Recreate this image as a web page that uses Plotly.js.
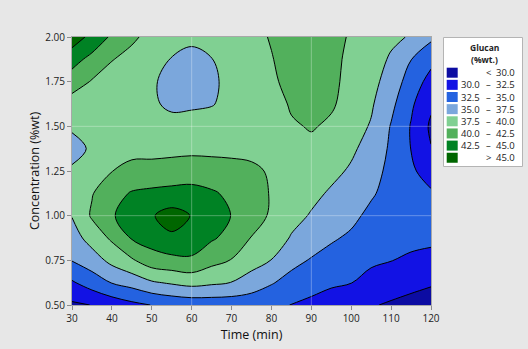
<!DOCTYPE html>
<html><head><meta charset="utf-8">
<script src="https://cdn.plot.ly/plotly-3.0.1.min.js"></script>
<style>html,body{margin:0;padding:0;background:#e7e7e7;} #chart{width:528px;height:349px;}</style>
</head><body><div id="chart"></div>
<script>
// ---- data ----
const timeMin = [30,35,40,45,50,55,60,65,70,75,80,85,90,95,100,105,110,115,120];
const concentration = [0.5,0.625,0.75,0.875,1.0,1.125,1.25,1.375,1.5,1.625,1.75,1.875,2.0];
// glucan[row = concentration index][col = time index]
const glucan = [
  [29.6,30.05,31.0,31.9,32.55,33.1,33.4,33.5,33.5,33.3,33.0,32.45,31.7,31.1,30.6,30.2,29.7,29.2,28.7],
  [32.2,33.7,35.1,35.95,37.2,37.8,38.3,37.9,37.45,36.5,35.2,34.1,33.8,32.95,32.55,31.7,31.2,30.75,30.3],
  [35.1,36.3,38.2,39.7,41.4,41.8,42.1,40.76,39.9,38.4,37.45,35.75,34.8,34.1,33.6,32.9,32.55,32.2,31.8],
  [36.4,38.5,40.4,42.7,43.6,44.6,44.0,42.8,41.7,39.9,38.9,37.3,36.3,35.3,34.6,33.7,33.3,33.0,33.0],
  [37.6,40.3,42.2,44.0,44.8,46.0,44.9,43.5,42.45,41.0,39.7,38.3,37.3,36.4,35.6,34.4,33.8,33.3,33.3],
  [38.1,39.85,41.6,42.7,43.0,43.2,43.3,42.8,42.0,41.2,39.8,38.8,38.1,37.2,36.5,35.3,34.1,33.3,32.8],
  [37.7,38.5,39.95,40.7,40.9,41.1,41.3,41.06,40.8,40.5,39.7,39.0,38.7,38.1,37.2,36.0,34.3,32.9,31.4],
  [37.0,37.7,38.9,39.3,39.2,39.3,39.4,39.4,39.4,39.3,38.9,39.2,39.4,38.8,37.9,36.6,34.6,32.45,30.1],
  [37.7,37.8,38.3,38.6,38.4,38.2,38.3,38.3,38.5,38.7,38.7,39.7,40.2,39.6,38.5,37.3,34.85,32.35,29.6],
  [38.8,38.6,38.4,38.3,37.8,37.1,37.2,37.4,38.0,38.5,38.8,40.3,40.7,40.3,39.05,37.8,35.6,32.9,30.4],
  [41.35,39.8,39.0,38.5,37.7,37.0,36.8,37.2,38.0,38.6,39.6,40.7,41.0,40.6,39.2,38.3,36.4,33.9,31.6],
  [43.4,41.8,40.1,39.3,38.2,37.4,37.1,37.45,38.3,38.9,39.9,40.8,41.1,40.7,39.4,38.6,37.2,35.05,33.2],
  [46.5,44.2,42.1,40.4,39.3,38.5,37.8,38.2,38.8,39.4,40.15,40.8,41.0,40.6,39.8,38.9,38.0,37.3,35.5]
];
const levelStart = 30, levelEnd = 45, levelStep = 2.5;
const bandColors = ['#0c0ca2','#1212e4','#2462e0','#7ba7dc','#80d092','#52b05c','#008224','#006600'];
const bandLow  = ['',     '30.0','32.5','35.0','37.5','40.0','42.5',''];
const bandSym  = ['<',    '–',   '–',   '–',   '–',   '–',   '–',   '>'];
const bandHigh = ['30.0', '32.5','35.0','37.5','40.0','42.5','45.0','45.0'];
const xTicks = [30,40,50,60,70,80,90,100,110,120];
const yTicks = [0.5,0.75,1.0,1.25,1.5,1.75,2.0];
const gridX = [60,90];
const gridY = [1.0,1.5];

// ---- layout helpers (pixel -> paper) ----
const L = 72, R = 431, T = 37, B = 305;
const px = p => (p - L) / (R - L);
const py = p => 1 - (p - T) / (B - T);

const nb = bandColors.length;
const colorscale = bandColors.map((c, i) => [i / (nb - 1), c]);

const trace = {
  type: 'contour',
  x: timeMin, y: concentration, z: glucan,
  autocontour: false,
  contours: {start: levelStart, end: levelEnd, size: levelStep, coloring: 'fill', showlines: true},
  colorscale: colorscale,
  line: {color: '#000', width: 1, smoothing: 1},
  showscale: false,
  hoverinfo: 'skip'
};

const shapes = [];
const annotations = [];
gridX.forEach(g => shapes.push({type:'line', xref:'x', yref:'paper', x0:g, x1:g, y0:0, y1:1,
  line:{color:'rgba(255,255,255,0.3)', width:1}, layer:'above'}));
gridY.forEach(g => shapes.push({type:'line', xref:'paper', yref:'y', x0:0, x1:1, y0:g, y1:g,
  line:{color:'rgba(255,255,255,0.3)', width:1}, layer:'above'}));

// legend box
shapes.push({type:'rect', xref:'paper', yref:'paper', x0:px(443.5), x1:px(522.5), y0:py(166.5), y1:py(37.5),
  fillcolor:'#ffffff', line:{color:'#b4b4b4', width:1}, layer:'above'});
const lfont = {family:'Open Sans, sans-serif', size:9.5, color:'#222'};
annotations.push({xref:'paper', yref:'paper', x:px(484), y:py(47), text:'<b>Glucan</b>', showarrow:false,
  xanchor:'center', yanchor:'middle', font:{family:'Open Sans, sans-serif', size:8.5, color:'#222'}});
annotations.push({xref:'paper', yref:'paper', x:px(484), y:py(59.5), text:'<b>(%wt.)</b>', showarrow:false,
  xanchor:'center', yanchor:'middle', font:{family:'Open Sans, sans-serif', size:8.5, color:'#222'}});
for (let i = 0; i < nb; i++) {
  const cy = 72.7 + i * 12.15;
  shapes.push({type:'rect', xref:'paper', yref:'paper', x0:px(446.7), x1:px(457.7), y0:py(cy + 5), y1:py(cy - 5),
    fillcolor: bandColors[i], line:{width:0}, layer:'above'});
  if (bandLow[i]) annotations.push({xref:'paper', yref:'paper', x:px(482), y:py(cy), text:bandLow[i],
    showarrow:false, xanchor:'right', yanchor:'middle', font:lfont});
  annotations.push({xref:'paper', yref:'paper', x:px(488.5), y:py(cy), text:bandSym[i],
    showarrow:false, xanchor:'center', yanchor:'middle', font:lfont});
  annotations.push({xref:'paper', yref:'paper', x:px(516.5), y:py(cy), text:bandHigh[i],
    showarrow:false, xanchor:'right', yanchor:'middle', font:lfont});
}

const axisCommon = {
  ticks:'outside', ticklen:4, tickcolor:'#8c8c8c', tickwidth:1,
  showline:true, linecolor:'#a8a8a8', linewidth:1, mirror:true,
  showgrid:false, zeroline:false,
  tickfont:{family:'Open Sans, sans-serif', size:10, color:'#222'}
};

const layout = {
  width:528, height:349,
  margin:{l:L, r:528-R, t:T, b:349-B, pad:0},
  paper_bgcolor:'#e7e7e7', plot_bgcolor:'#ffffff',
  showlegend:false,
  xaxis: Object.assign({}, axisCommon, {range:[30,120], tickvals:xTicks, ticktext:xTicks.map(String),
    title:{text:'Time (min)', font:{family:'Open Sans, sans-serif', size:12.5, color:'#111'}, standoff:6}}),
  yaxis: Object.assign({}, axisCommon, {range:[0.5,2.0], tickvals:yTicks, ticktext:yTicks.map(v=>v.toFixed(2)),
    title:{text:'Concentration (%wt)', font:{family:'Open Sans, sans-serif', size:12.5, color:'#111'}, standoff:2}}),
  shapes: shapes,
  annotations: annotations
};

Plotly.newPlot('chart', [trace], layout, {displayModeBar:false, staticPlot:true});
</script>
</body></html>
